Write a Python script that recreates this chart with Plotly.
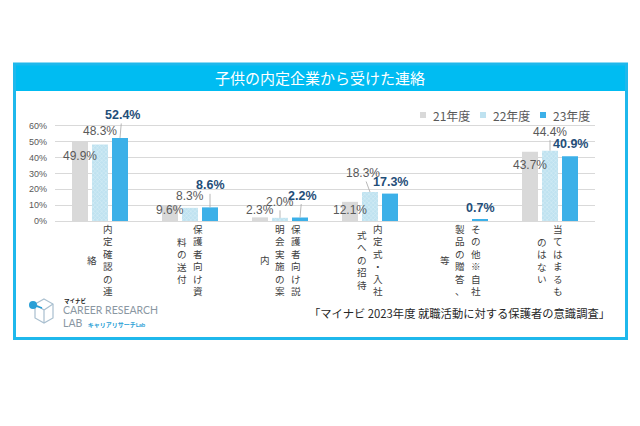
import plotly.graph_objects as go

# ---------------- data ----------------
categories = [
    "内定確認の連絡",
    "保護者向け資料の送付",
    "保護者向け説明会実施の案内",
    "内定式・入社式への招待",
    "その他 ※自社製品の贈答、等",
    "当てはまるものはない",
]
# axis label text as it is wrapped into vertical columns (right to left)
tick_columns = [
    ["内定確認の連", "絡"],
    ["保護者向け資", "料の送付"],
    ["保護者向け説", "明会実施の案", "内"],
    ["内定式・入社", "式への招待"],
    ["その他 ※自社", "製品の贈答、", "等"],
    ["当てはまるも", "のはない"],
]
series_names = ["21年度", "22年度", "23年度"]
values_21 = [49.9, 9.6, 2.3, 12.1, None, 43.7]
values_22 = [48.3, 8.3, 2.0, 18.3, None, 44.4]
values_23 = [52.4, 8.6, 2.2, 17.3, 0.7, 40.9]
y_tick_vals = [0, 10, 20, 30, 40, 50, 60]
y_tick_text = ["0%", "10%", "20%", "30%", "40%", "50%", "60%"]
title_text = "子供の内定企業から受けた連絡"
source_text = "「マイナビ 2023年度 就職活動に対する保護者の意識調査」"

# ---------------- style ----------------
OFF = 8                      # the page body has an 8px default margin
W, H = 640 - OFF, 426 - OFF
L, R, T, B = 55, 595, 118, 221  # plot area in window pixels


def px(x):
    return (x - L) / (R - L)


def py(y):
    return (B - y) / (B - T)


colors = ["#d9d9d9", "#bfe2f0", "#3cb0e8"]
jp_font = "Noto Sans CJK JP"
num_font = "Liberation Sans Narrow, Arial Narrow, Liberation Sans, Arial, sans-serif"

# label offsets (dx, dy in px relative to bar top) and leader-line flags
label_offsets = [
    [(0, 14), (0, 4), (0, -7), (0, 8), None, (0, 13)],
    [(0, -13), (0, -12), (0, -16), (-7, -19), None, (0, -19)],
    [(2, -23), (0, -22), (2, -22), (0, -12), (0, -12), (0, -12)],
]
leaders = [
    [False] * 6,
    [False, False, True, True, False, True],
    [True, True, True, False, False, False],
]

fig = go.Figure()
all_values = [values_21, values_22, values_23]
for k, (name, vals) in enumerate(zip(series_names, all_values)):
    marker = dict(color=colors[k], line=dict(width=0))
    if k == 1:
        marker["pattern"] = dict(shape="x", fgcolor="#eef8fc", size=3, solidity=0.35,
                                 fillmode="overlay")
    fig.add_trace(go.Bar(
        name=name, x=list(range(len(categories))), y=vals,
        marker=marker, showlegend=False, hoverinfo="skip",
    ))

annotations = []
shapes = []

# data labels
for k, vals in enumerate(all_values):
    for i, v in enumerate(vals):
        if v is None:
            continue
        dx, dy = label_offsets[k][i]
        bold = k == 2
        annotations.append(dict(
            x=i, y=v, xref="x", yref="y", xshift=(k - 1) * 20,
            text=(f"<b>{v:.1f}%</b>" if bold else f"{v:.1f}%"),
            showarrow=True, ax=dx, ay=dy, axref="pixel", ayref="pixel",
            arrowhead=0, arrowwidth=0.8, standoff=0, startstandoff=0,
            arrowcolor=("#a6a6a6" if leaders[k][i] else "rgba(0,0,0,0)"),
            font=dict(family=num_font, size=(12.5 if bold else 12),
                      color=("#1f4e79" if bold else "#595959")),
        ))

# vertical category labels: one stacked annotation per text column
COLW = 15.5
for i, cols in enumerate(tick_columns):
    n = len(cols)
    for j, col in enumerate(cols):
        xoff = ((n - 1) / 2 - j) * COLW
        stacked = "<br>".join(c for c in col if c != " ")
        annotations.append(dict(
            x=i, xref="x", xshift=xoff, y=py(260), yref="paper",
            text=stacked, showarrow=False, xanchor="center", yanchor="middle",
            align="center", borderpad=0,
            font=dict(family=jp_font, size=9.6, color="#404040"),
        ))

# frame and title bar
shapes.append(dict(type="rect", xref="paper", yref="paper",
                   x0=px(13), x1=px(628), y0=py(63), y1=py(91),
                   fillcolor="#00bcf2", line=dict(width=0), layer="below"))
shapes.append(dict(type="rect", xref="paper", yref="paper",
                   x0=px(14.5), x1=px(626.5), y0=py(64), y1=py(338.5),
                   fillcolor="rgba(0,0,0,0)", line=dict(color="#1fb8ec", width=3)))
annotations.append(dict(x=px(320), y=py(77.5), xref="paper", yref="paper",
                        text=title_text, showarrow=False, xanchor="center", yanchor="middle",
                        font=dict(family=jp_font, size=15, color="white")))

# legend (manual, compact like the original)
leg_x = [423, 483, 543]
for k, name in enumerate(series_names):
    shapes.append(dict(type="rect", xref="paper", yref="paper",
                       x0=px(leg_x[k] - 3), x1=px(leg_x[k] + 3),
                       y0=py(118), y1=py(112),
                       fillcolor=colors[k], line=dict(width=0)))
    annotations.append(dict(x=px(leg_x[k] + 8), y=py(115), xref="paper", yref="paper",
                            text=name, showarrow=False, xanchor="left", yanchor="middle",
                            font=dict(family=jp_font, size=12, color="#595959")))

# source
annotations.append(dict(x=px(612), y=py(313), xref="paper", yref="paper",
                        text=source_text, showarrow=False, xanchor="right", yanchor="middle",
                        font=dict(family=jp_font, size=11.3, color="#262626")))

# logo
shapes.append(dict(type="path", xref="paper", yref="paper",
                   path=(f"M {px(44)},{py(299)} L {px(53)},{py(304)} L {px(53)},{py(318)} "
                         f"L {px(44)},{py(323)} L {px(35)},{py(318)} L {px(35)},{py(304)} Z"),
                   line=dict(color="#a9bfcf", width=1.2)))
shapes.append(dict(type="path", xref="paper", yref="paper",
                   path=(f"M {px(35)},{py(304)} L {px(44)},{py(310)} L {px(53)},{py(304)} "
                         f"M {px(44)},{py(310)} L {px(44)},{py(323)}"),
                   line=dict(color="#a9bfcf", width=1.2)))
shapes.append(dict(type="line", xref="paper", yref="paper",
                   x0=px(33), x1=px(42), y0=py(305), y1=py(308),
                   line=dict(color="#2a9fd6", width=1.5)))
shapes.append(dict(type="circle", xref="paper", yref="paper",
                   x0=px(29), x1=px(37), y0=py(301), y1=py(309),
                   fillcolor="#2a9fd6", line=dict(width=0)))
annotations.append(dict(x=px(62), y=py(300.5), xref="paper", yref="paper",
                        text="<b>マイナビ</b>", showarrow=False, xanchor="left", yanchor="middle",
                        font=dict(family=jp_font, size=5.5, color="#222222")))
annotations.append(dict(x=px(61), y=py(310), xref="paper", yref="paper",
                        text="CAREER RESEARCH", showarrow=False, xanchor="left", yanchor="middle",
                        font=dict(family="Lato, Liberation Sans", size=10.5, color="#8a97a2")))
annotations.append(dict(x=px(61), y=py(322.5), xref="paper", yref="paper",
                        text=("LAB  <span style='font-size:6px;color:#2a9fd6'>"
                              "<b>キャリアリサーチLab</b></span>"),
                        showarrow=False, xanchor="left", yanchor="middle",
                        font=dict(family="Lato, Noto Sans CJK JP", size=10.5, color="#8a97a2")))

fig.update_layout(
    width=W, height=H,
    margin=dict(l=L - OFF, r=W - (R - OFF), t=T - OFF, b=H - (B - OFF), pad=0),
    paper_bgcolor="white", plot_bgcolor="white",
    barmode="group", bargap=1 / 3, bargroupgap=0.2,
    showlegend=False,
    xaxis=dict(range=[-0.5, len(categories) - 0.5], showticklabels=False,
               showgrid=False, zeroline=False, showline=False, ticks="",
               fixedrange=True),
    yaxis=dict(range=[0, 65], tickvals=y_tick_vals, ticktext=y_tick_text,
               showgrid=True, gridcolor="#d9d9d9", gridwidth=1,
               zeroline=True, zerolinecolor="#d9d9d9", zerolinewidth=1,
               showline=False, ticks="", ticklabelstandoff=7,
               tickfont=dict(family="Liberation Sans, Arial", size=9, color="#595959"),
               fixedrange=True),
    annotations=annotations,
    shapes=shapes,
)

fig.write_html("out.html")
